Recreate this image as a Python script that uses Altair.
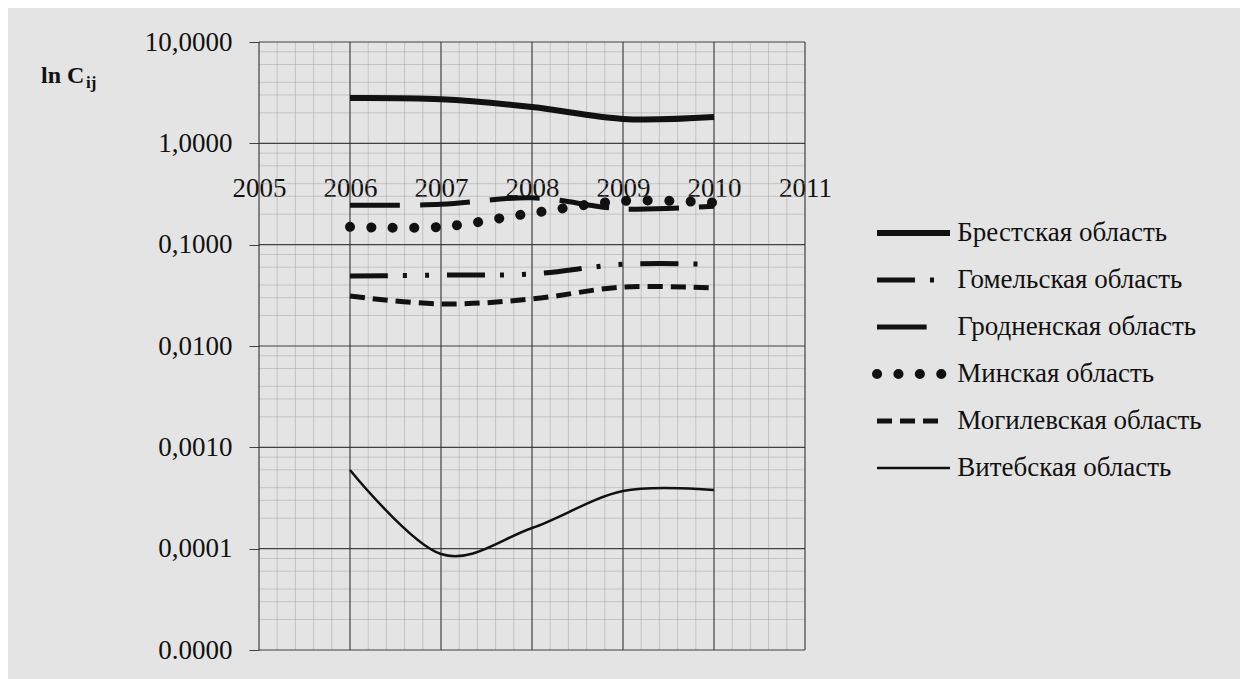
import altair as alt
import pandas as pd

# ---------------- data ----------------
years = [2006, 2007, 2008, 2009, 2010]
series_names = [
    "Брестская область",
    "Гомельская область",
    "Гродненская область",
    "Минская область",
    "Могилевская область",
    "Витебская область",
]
brest = [2.80, 2.72, 2.28, 1.74, 1.82]
gomel = [0.049, 0.050, 0.0514, 0.064, 0.064]
grodno = [0.245, 0.25, 0.29, 0.225, 0.24]
minsk = [0.15, 0.15, 0.205, 0.27, 0.26]
mogilev = [0.0311, 0.0260, 0.0291, 0.0382, 0.0373]
vitebsk = [0.000597, 0.0000885, 0.00016, 0.000371, 0.000379]

x_ticks = [2005, 2006, 2007, 2008, 2009, 2010, 2011]
y_ticks = [10, 1, 0.1, 0.01, 0.001, 0.0001, 0.00001]
y_tick_labels = ["10,0000", "1,0000", "0,1000", "0,0100", "0,0010", "0,0001", "0.0000"]
y_title = "ln C"
y_title_sub = "ij"

values = [brest, gomel, grodno, minsk, mogilev, vitebsk]

# ---------------- styles ----------------
INK = "#111111"
FONT = "Liberation Serif"
FS = 27
styles = {
    "Брестская область": dict(strokeWidth=6),
    "Гомельская область": dict(strokeWidth=5, strokeDash=[38, 15, 4, 18, 4, 18]),
    "Гродненская область": dict(strokeWidth=5, strokeDash=[50, 20]),
    "Минская область": dict(strokeWidth=10, strokeDash=[0.1, 21.3], strokeCap="round"),
    "Могилевская область": dict(strokeWidth=5, strokeDash=[15, 8]),
    "Витебская область": dict(strokeWidth=2.5),
}
legend_end = {
    "Брестская область": 1.0,
    "Гомельская область": 0.95,
    "Гродненская область": 0.68,
    "Минская область": 0.92,
    "Могилевская область": 0.86,
    "Витебская область": 1.0,
}
draw_order = [5, 4, 1, 2, 3, 0]

W, H = 546, 608
xscale = alt.Scale(domain=[2005, 2011], nice=False, zero=False)
yscale = alt.Scale(type="log", domain=[0.00001, 10], nice=False)

expr = ""
for v, l in zip(y_ticks, y_tick_labels):
    expr += f"datum.value > {v * 0.5} ? '{l}' : "
expr += "''"

yaxis = alt.Axis(
    values=y_ticks, labelExpr=expr, title=None, grid=False, domain=False,
    tickSize=10, tickColor="#404040", tickWidth=1, labelPadding=17,
    labelFont=FONT, labelFontSize=FS, labelColor=INK, minExtent=246, maxExtent=246,
)
xaxis = alt.Axis(
    values=x_ticks, format="d", title=None, grid=False, ticks=False, domain=False,
    labelPadding=0, labelBaseline="middle", offset=-462, labelFont=FONT,
    labelFontSize=FS, labelColor=INK, labelFlush=False, labelOverlap=False,
)

def X(field="year"):
    return alt.X(f"{field}:Q", scale=xscale, axis=xaxis)

def Y(field="v"):
    return alt.Y(f"{field}:Q", scale=yscale, axis=yaxis)

# grid
minor_h = [m * d for d in [0.00001, 0.0001, 0.001, 0.01, 0.1, 1] for m in [2, 3, 4, 6, 8]]
minor_v = [2005 + k * 0.2 for k in range(31) if k % 5 != 0]
grid_minor_h = alt.Chart(pd.DataFrame({"v": minor_h})).mark_rule(
    color="#a0a0a0", strokeWidth=0.6, opacity=0.8).encode(y=Y())
grid_minor_v = alt.Chart(pd.DataFrame({"year": minor_v})).mark_rule(
    color="#a0a0a0", strokeWidth=0.6, opacity=0.8).encode(x=X())
grid_major_h = alt.Chart(pd.DataFrame({"v": y_ticks})).mark_rule(
    color="#404040", strokeWidth=1.1).encode(y=Y())
grid_major_v = alt.Chart(pd.DataFrame({"year": x_ticks})).mark_rule(
    color="#333333", strokeWidth=1.1).encode(x=X())

layers = [grid_minor_h, grid_minor_v, grid_major_h, grid_major_v]
for i in draw_order:
    name = series_names[i]
    df = pd.DataFrame({"year": years, "v": values[i]})
    layers.append(
        alt.Chart(df).mark_line(interpolate="cardinal", color=INK, **styles[name])
        .encode(x=X(), y=Y())
    )

title_df = pd.DataFrame({"t": [y_title]})
sub_df = pd.DataFrame({"t": [y_title_sub]})
layers.append(
    alt.Chart(title_df).mark_text(font=FONT, fontSize=24, fontWeight="bold", color=INK,
                                  align="left", baseline="alphabetic")
    .encode(x=alt.value(-218), y=alt.value(41), text="t:N")
)
layers.append(
    alt.Chart(sub_df).mark_text(font=FONT, fontSize=17, fontWeight="bold", color=INK,
                                align="left", baseline="alphabetic")
    .encode(x=alt.value(-173), y=alt.value(46), text="t:N")
)

main = alt.layer(*layers).properties(width=W, height=H)

# ---------------- legend panel ----------------
LW = 380
lx = alt.Scale(domain=[-0.781, -0.781 + LW / 73.0], nice=False, zero=False)
ly = alt.Scale(domain=[-191 / 47.0, -191 / 47.0 + H / 47.0], nice=False, zero=False, reverse=True)
leg_layers = []
for i, name in enumerate(series_names):
    df = pd.DataFrame({"row": [i], "x0": [0.0], "x1": [legend_end[name]]})
    leg_layers.append(
        alt.Chart(df).mark_rule(color=INK, **styles[name]).encode(
            x=alt.X("x0:Q", scale=lx, axis=None),
            x2="x1:Q",
            y=alt.Y("row:Q", scale=ly, axis=None),
        )
    )
text_df = pd.DataFrame({"row": list(range(len(series_names))), "name": series_names,
                        "tx": [1.1] * len(series_names)})
leg_layers.append(
    alt.Chart(text_df).mark_text(font=FONT, fontSize=FS, color=INK, align="left",
                                 baseline="middle")
    .encode(x=alt.X("tx:Q", scale=lx, axis=None),
            y=alt.Y("row:Q", scale=ly, axis=None), text="name:N")
)
legend = alt.layer(*leg_layers).properties(width=LW, height=H)

chart = (
    alt.hconcat(main, legend, spacing=15, bounds="flush")
    .properties(padding={"left": 5, "top": 20, "right": 38, "bottom": 18})
    .configure(background="#e4e4e4")
    .configure_view(stroke=None)
)

chart.save("out.html", embed_options={"renderer": "svg", "actions": False})
